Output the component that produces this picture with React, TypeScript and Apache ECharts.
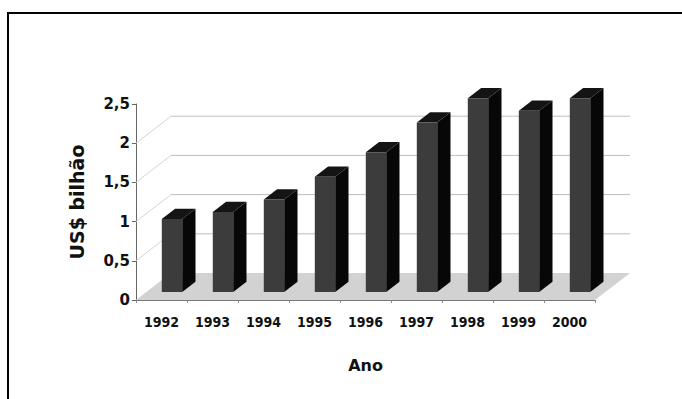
import React, { useEffect, useRef } from "react";
import * as echarts from "echarts";

// Annual values, US$ billions
const categories = ["1992", "1993", "1994", "1995", "1996", "1997", "1998", "1999", "2000"];
const values = [0.93, 1.02, 1.18, 1.47, 1.78, 2.16, 2.47, 2.31, 2.47];
const yTicks = [0, 0.5, 1, 1.5, 2, 2.5];
const backWallTicks = [0.5, 1, 1.5, 2];

// Oblique projection used for the pseudo-3D floor, walls and columns
const DEPTH_X = 35;
const DEPTH_Y = -27;
const BAR_FRONT = 0.3;
const BAR_BACK = 0.68;
const BAR_RATIO = 0.4;

const FONT = "DejaVu Sans";
const FONT_NARROW = "'DejaVu Sans Condensed', 'Liberation Sans Narrow', 'DejaVu Sans'";

export default function App() {
  const ref = useRef<HTMLDivElement>(null);

  useEffect(() => {
    if (!ref.current) return;
    const chart = echarts.init(ref.current, null, { renderer: "svg" });

    const option: any = {
      animation: false,
      backgroundColor: "#ffffff",
      grid: { left: 136, right: 87, top: 104, bottom: 99 },
      xAxis: {
        type: "category",
        data: categories,
        boundaryGap: true,
        axisLine: { show: true, lineStyle: { color: "#777", width: 1 } },
        axisTick: { show: true, length: 3, lineStyle: { color: "#888" } },
        axisLabel: {
          margin: 15,
          fontFamily: FONT_NARROW,
          fontWeight: "bold",
          fontSize: 14,
          color: "#111",
        },
        name: "Ano",
        nameLocation: "middle",
        nameGap: 57,
        nameTextStyle: { fontFamily: FONT, fontWeight: "bold", fontSize: 16, color: "#111" },
        splitLine: { show: false },
      },
      yAxis: {
        type: "value",
        min: 0,
        max: 2.5,
        interval: 0.5,
        axisLine: { show: true, lineStyle: { color: "#666", width: 1 } },
        axisTick: { show: true, length: 4, lineStyle: { color: "#666" } },
        axisLabel: {
          margin: 6,
          fontFamily: FONT,
          fontWeight: "bold",
          fontSize: 15,
          color: "#111",
          formatter: (v: number) => {
            const t = yTicks.find((k) => Math.abs(k - v) < 1e-9);
            return t === undefined ? "" : String(t).replace(".", ",");
          },
        },
        splitLine: { show: false },
        name: "US$ bilhão",
        nameLocation: "middle",
        nameRotate: 90,
        nameGap: 50,
        nameTextStyle: { fontFamily: FONT, fontWeight: "bold", fontSize: 19, color: "#111" },
      },
      graphic: [
        {
          type: "rect",
          shape: { x: 8, y: 13, width: 720, height: 420 },
          style: { fill: "none", stroke: "#000", lineWidth: 2 },
          silent: true,
        },
      ],
      series: [
        {
          // Floor and back-wall grid
          type: "custom",
          z: 1,
          silent: true,
          data: [[0, 0]],
          renderItem: (_params: any, api: any) => {
            const band = api.size([1, 0])[0];
            const xL = api.coord([0, 0])[0] - band / 2;
            const xR = api.coord([categories.length - 1, 0])[0] + band / 2;
            const y0 = api.coord([0, 0])[1];
            const children: any[] = [
              {
                type: "polygon",
                shape: {
                  points: [
                    [xL, y0],
                    [xR, y0],
                    [xR + DEPTH_X, y0 + DEPTH_Y],
                    [xL + DEPTH_X, y0 + DEPTH_Y],
                  ],
                },
                style: { fill: "#d2d2d2", stroke: "none" },
              },
            ];
            backWallTicks.forEach((v) => {
              const y = api.coord([0, v])[1];
              children.push({
                type: "line",
                shape: { x1: xL, y1: y, x2: xL + DEPTH_X, y2: y + DEPTH_Y },
                style: { stroke: "#d4d4d4", lineWidth: 1 },
              });
              children.push({
                type: "line",
                shape: { x1: xL + DEPTH_X, y1: y + DEPTH_Y, x2: xR + DEPTH_X, y2: y + DEPTH_Y },
                style: { stroke: "#bdbdbd", lineWidth: 1 },
              });
            });
            return { type: "group", children };
          },
        },
        {
          // Columns drawn as front, side and top faces
          type: "custom",
          z: 3,
          data: values.map((v, i) => [i, v]),
          renderItem: (_params: any, api: any) => {
            const i = api.value(0);
            const v = api.value(1);
            const band = api.size([1, 0])[0];
            const w = band * BAR_RATIO;
            const top = api.coord([i, v]);
            const base = api.coord([i, 0]);
            const x0 = top[0] - w / 2 + DEPTH_X * BAR_FRONT;
            const x1 = x0 + w;
            const yTop = top[1] + DEPTH_Y * BAR_FRONT;
            const yBot = base[1] + DEPTH_Y * BAR_FRONT;
            const dx = DEPTH_X * (BAR_BACK - BAR_FRONT);
            const dy = DEPTH_Y * (BAR_BACK - BAR_FRONT);
            return {
              type: "group",
              children: [
                {
                  type: "polygon",
                  shape: {
                    points: [
                      [x1, yTop],
                      [x1 + dx, yTop + dy],
                      [x1 + dx, yBot + dy],
                      [x1, yBot],
                    ],
                  },
                  style: { fill: "#070707", stroke: "none" },
                },
                {
                  type: "polygon",
                  shape: {
                    points: [
                      [x0, yTop],
                      [x1, yTop],
                      [x1 + dx, yTop + dy],
                      [x0 + dx, yTop + dy],
                    ],
                  },
                  style: { fill: "#141414", stroke: "none" },
                },
                {
                  type: "rect",
                  shape: { x: x0, y: yTop, width: w, height: yBot - yTop },
                  style: { fill: "#3c3c3c", stroke: "none" },
                },
              ],
            };
          },
        },
      ],
    };

    chart.setOption(option);
    return () => chart.dispose();
  }, []);

  return (
    <div
      ref={ref}
      style={{ position: "fixed", left: 0, top: 0, width: 682, height: 399, background: "#fff" }}
    />
  );
}
